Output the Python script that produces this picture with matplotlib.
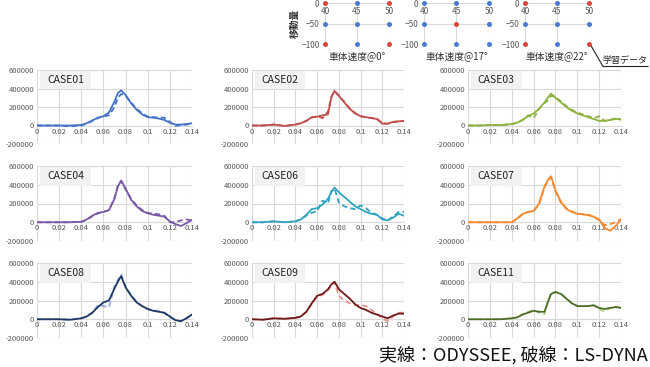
import matplotlib
matplotlib.use("Agg")
import matplotlib.pyplot as plt
from matplotlib.patches import Rectangle
from matplotlib.lines import Line2D

plt.rcParams['font.family'] = ['Noto Sans CJK JP', 'DejaVu Sans']

# ---------------- data ----------------
t = [0, 0.01, 0.02, 0.03, 0.04, 0.045, 0.05, 0.055, 0.06, 0.065, 0.07, 0.073, 0.076,
     0.08, 0.085, 0.09, 0.095, 0.1, 0.105, 0.11, 0.115, 0.12, 0.125, 0.13, 0.135, 0.14]

case01_solid = [0, 0, 0, 0, 5, 25, 55, 85, 100, 140, 260, 350, 380, 330, 240, 170, 120, 90, 85, 75, 60, 30, 10, 10, 15, 25]
case01_dash = [0, 0, 0, -10, 0, 20, 50, 80, 100, 110, 200, 300, 340, 320, 250, 180, 130, 95, 90, 85, 85, 40, -5, 5, 10, 20]
case02_solid = [0, 0, 10, -5, 10, 25, 50, 90, 95, 110, 120, 300, 375, 320, 250, 180, 130, 100, 90, 80, 70, 20, 20, 40, 45, 50]
case02_dash = [0, 0, 10, -5, 10, 25, 50, 85, 100, 80, 150, 310, 370, 325, 255, 185, 135, 100, 90, 80, 75, 25, 20, 35, 45, 50]
case03_solid = [0, 0, 5, 5, 15, 30, 60, 100, 130, 180, 250, 300, 345, 300, 250, 200, 160, 130, 110, 90, 70, 50, 50, 60, 70, 70]
case03_dash = [0, 0, 5, 5, 15, 30, 60, 110, 80, 180, 240, 270, 320, 310, 260, 210, 170, 140, 120, 100, 80, 100, 50, 60, 80, 60]
case04_solid = [0, 0, 0, 0, 5, 30, 70, 100, 110, 130, 250, 380, 445, 360, 240, 170, 120, 95, 80, 70, 60, 10, -20, -40, -10, 25]
case04_dash = [0, 0, 0, 0, 5, 25, 65, 95, 110, 130, 260, 390, 440, 350, 250, 180, 130, 100, 90, 85, 70, 0, 0, 20, 30, 20]
case06_solid = [0, 0, 10, 0, 10, 30, 80, 140, 150, 190, 250, 320, 370, 320, 270, 220, 170, 140, 110, 90, 80, 30, 20, 50, 90, 70]
case06_dash = [0, 0, 10, 0, 10, 30, 70, 100, 120, 230, 200, 330, 360, 210, 170, 150, 140, 180, 150, 100, 80, 40, 20, 60, 110, 110]
case07_solid = [0, 0, 0, 0, 0, 40, 90, 110, 120, 200, 380, 450, 490, 340, 220, 140, 110, 90, 85, 75, 60, 30, -60, -90, -40, 30]
case07_dash = [0, 0, 0, 0, 0, 35, 85, 110, 120, 190, 370, 440, 480, 330, 210, 150, 115, 95, 85, 80, 60, 20, -30, -20, 0, 30]
case08_solid = [0, 0, 0, -5, 10, 30, 70, 130, 180, 200, 330, 400, 460, 340, 250, 180, 140, 110, 90, 80, 70, 30, -10, -20, 10, 50]
case08_dash = [0, 0, 0, -5, 10, 30, 70, 150, 140, 130, 350, 420, 480, 350, 260, 185, 140, 105, 95, 85, 65, 20, -5, -25, 15, 45]
case09_solid = [0, -5, 10, 5, 15, 30, 80, 170, 250, 270, 320, 370, 400, 320, 270, 220, 160, 120, 100, 70, 50, 30, 10, 40, 60, 60]
case09_dash = [0, -5, 10, 5, 15, 30, 75, 160, 240, 260, 310, 360, 395, 250, 200, 170, 150, 150, 140, 100, 60, 10, -20, 30, 70, 70]
case11_solid = [0, 0, 0, 0, 10, 20, 50, 70, 90, 80, 80, 180, 270, 290, 270, 220, 170, 140, 140, 140, 150, 120, 110, 120, 130, 120]
case11_dash = [0, 0, 0, 0, 10, 20, 55, 80, 100, 70, 50, 190, 280, 295, 275, 225, 175, 145, 140, 140, 145, 110, 80, 120, 130, 130]

case_names = ["CASE01", "CASE02", "CASE03", "CASE04", "CASE06", "CASE07", "CASE08", "CASE09", "CASE11"]
solids = [case01_solid, case02_solid, case03_solid, case04_solid, case06_solid, case07_solid, case08_solid, case09_solid, case11_solid]
dashes = [case01_dash, case02_dash, case03_dash, case04_dash, case06_dash, case07_dash, case08_dash, case09_dash, case11_dash]
solid_colors = ["#4472C4", "#C0504D", "#8DB33F", "#7A5AA6", "#31A5C0", "#F58A2E", "#1F3864", "#6E1A1A", "#4F6B2B"]
dash_colors = ["#4472C4", "#C0504D", "#8DB33F", "#7A5AA6", "#31A5C0", "#F58A2E", "#8EAADB", "#E8948E", "#B4D38A"]

y_ticks = [-200000, 0, 200000, 400000, 600000]
x_ticks = [0, 0.02, 0.04, 0.06, 0.08, 0.1, 0.12, 0.14]
x_tick_labels = ["0", "0.02", "0.04", "0.06", "0.08", "0.1", "0.12", "0.14"]

# training grid (speed x displacement)
speeds = [40, 45, 50]
disps = [0, -50, -100]
angle_labels = ["車体速度@0°", "車体速度@17°", "車体速度@22°"]
# 1 = training data (red)
train_flags = [
    [[1, 0, 1], [0, 0, 0], [1, 0, 1]],
    [[0, 0, 0], [0, 1, 0], [0, 0, 0]],
    [[1, 0, 1], [0, 0, 0], [1, 0, 1]],
]

# ---------------- figure ----------------
W, H = 650, 367
fig = plt.figure(figsize=(W / 100, H / 100), dpi=100)


def px_axes(x0, y0, x1, y1):
    return fig.add_axes([x0 / W, 1 - y1 / H, (x1 - x0) / W, (y1 - y0) / H])


GRID = "#D9D9D9"
TXT = "#595959"

col_x = [(37, 192), (252, 404), (468, 621)]
row_y = [(70, 144), (166, 241), (263, 338)]

for i, name in enumerate(case_names):
    r, c = divmod(i, 3)
    x0, x1 = col_x[c]
    y0, y1 = row_y[r]
    ax = px_axes(x0, y0, x1, y1)
    ax.set_xlim(0, 0.14)
    ax.set_ylim(-200000, 600000)
    ax.set_xticks(x_ticks)
    ax.set_xticklabels(x_tick_labels)
    ax.set_yticks(y_ticks)
    ax.set_yticklabels([str(v) for v in y_ticks])
    ax.grid(True, color=GRID, linewidth=0.8)
    ax.set_axisbelow(True)
    for s in ["top", "right", "left"]:
        ax.spines[s].set_visible(False)
    ax.spines["bottom"].set_position(("data", 0))
    ax.spines["bottom"].set_color(GRID)
    ax.spines["bottom"].set_linewidth(0.8)
    ax.tick_params(length=0, labelsize=5.5, labelcolor=TXT, pad=2)
    ax.tick_params(axis="x", pad=1.5)
    ys = [v * 1000 for v in solids[i]]
    yd = [v * 1000 for v in dashes[i]]
    ax.plot(t, yd, color=dash_colors[i], lw=1.3, ls=(0, (3, 1.8)), zorder=3)
    ax.plot(t, ys, color=solid_colors[i], lw=1.3, zorder=4)
    ax.add_patch(Rectangle((0.02, 0.74), 0.33, 0.25, transform=ax.transAxes,
                           facecolor="#F2F2F2", edgecolor="none", zorder=5))
    ax.text(0.185, 0.865, name, transform=ax.transAxes, ha="center", va="center",
            fontsize=7.5, color="#222222", zorder=6)

# ---------------- training-data grids ----------------
grid_x = [(325, 389), (424, 489), (525, 589)]
for g in range(3):
    x0, x1 = grid_x[g]
    ax = px_axes(x0, 3.3, x1, 44)
    ax.set_xlim(40, 50)
    ax.set_ylim(-100, 0)
    ax.set_xticks(speeds)
    ax.set_yticks(disps)
    ax.set_yticklabels(["0", "\u221250", "\u2212100"])
    ax.grid(True, color=GRID, linewidth=0.8)
    ax.set_axisbelow(True)
    for s in ["top", "right", "left"]:
        ax.spines[s].set_visible(False)
    ax.spines["bottom"].set_position(("data", 0))
    ax.spines["bottom"].set_color(GRID)
    ax.tick_params(length=0, labelsize=6, labelcolor=TXT)
    ax.tick_params(axis="y", pad=4)
    ax.tick_params(axis="x", pad=3)
    for yi, d in enumerate(disps):
        for xi, s in enumerate(speeds):
            col = "#D9473F" if train_flags[g][yi][xi] else "#4A7BD0"
            ax.plot([s], [d], "o", color=col, ms=3.6, mec="none", clip_on=False, zorder=4)
    fig.text((x0 + x1) / 2 / W, 1 - 56 / H, angle_labels[g], ha="center", va="center",
             fontsize=7, color="#333333")
    if g == 0:
        fig.text(295 / W, 1 - 23 / H, "移動量", rotation=90, ha="center", va="center",
                 fontsize=7, color="#333333", fontweight="bold")

# annotation for training data
fig.add_artist(Line2D([591.5 / W, 603 / W, 648 / W], [1 - 46.5 / H, 1 - 66.5 / H, 1 - 66.5 / H],
                      color="#222222", lw=0.8))
fig.text(602 / W, 1 - 60 / H, "学習データ", ha="left", va="center", fontsize=6.5, color="#222222")

fig.text(648 / W, 1 - 355 / H, "実線：ODYSSEE, 破線：LS-DYNA", ha="right", va="center",
         fontsize=13, color="#111111")

fig.savefig("out.png", dpi=100, facecolor="white")
